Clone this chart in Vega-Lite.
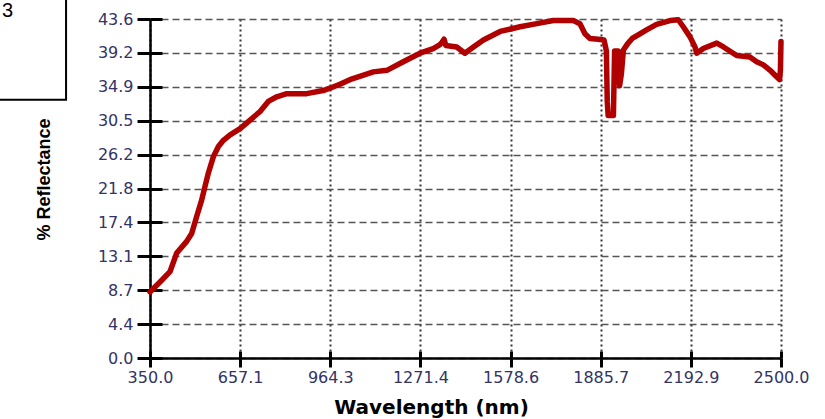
{
  "$schema": "https://vega.github.io/schema/vega-lite/v6.json",
  "width": 631,
  "height": 339,
  "autosize": {"type": "none"},
  "padding": {"left": 150, "top": 19, "right": 44, "bottom": 61},
  "background": "white",
  "config": {"view": {"stroke": null}},
  "datasets": {
    "spectrum": [
      {"w": 350, "r": 8.5}, {"w": 361, "r": 8.9}, {"w": 390, "r": 10.0}, {"w": 418, "r": 11.1},
      {"w": 441, "r": 13.5}, {"w": 475, "r": 15.0}, {"w": 492, "r": 16.0}, {"w": 509, "r": 18.2},
      {"w": 526, "r": 20.3}, {"w": 537, "r": 22.0}, {"w": 549, "r": 23.8}, {"w": 566, "r": 25.9},
      {"w": 583, "r": 27.2}, {"w": 600, "r": 28.0}, {"w": 623, "r": 28.7}, {"w": 657, "r": 29.5},
      {"w": 691, "r": 30.6}, {"w": 725, "r": 31.7}, {"w": 753, "r": 33.0}, {"w": 782, "r": 33.6},
      {"w": 816, "r": 34.0}, {"w": 884, "r": 34.0}, {"w": 940, "r": 34.4}, {"w": 963, "r": 34.7},
      {"w": 997, "r": 35.2}, {"w": 1031, "r": 35.8}, {"w": 1111, "r": 36.8}, {"w": 1157, "r": 37.0},
      {"w": 1213, "r": 38.1}, {"w": 1270, "r": 39.2}, {"w": 1315, "r": 39.8}, {"w": 1338, "r": 40.3},
      {"w": 1345, "r": 40.6}, {"w": 1352, "r": 41.0}, {"w": 1358, "r": 40.2}, {"w": 1395, "r": 40.0},
      {"w": 1423, "r": 39.2}, {"w": 1452, "r": 40.0}, {"w": 1486, "r": 40.9}, {"w": 1543, "r": 42.0},
      {"w": 1611, "r": 42.6}, {"w": 1668, "r": 43.0}, {"w": 1724, "r": 43.4}, {"w": 1792, "r": 43.4},
      {"w": 1815, "r": 43.0}, {"w": 1832, "r": 41.7}, {"w": 1849, "r": 41.1}, {"w": 1877, "r": 41.0},
      {"w": 1897, "r": 40.9}, {"w": 1905, "r": 39.5}, {"w": 1908, "r": 33.0}, {"w": 1911, "r": 31.2},
      {"w": 1929, "r": 31.2}, {"w": 1933, "r": 39.5}, {"w": 1945, "r": 39.5}, {"w": 1950, "r": 35.0},
      {"w": 1956, "r": 36.5}, {"w": 1963, "r": 39.6}, {"w": 1977, "r": 40.4}, {"w": 1993, "r": 41.1},
      {"w": 2015, "r": 41.6}, {"w": 2042, "r": 42.2}, {"w": 2076, "r": 42.9}, {"w": 2122, "r": 43.4},
      {"w": 2150, "r": 43.5}, {"w": 2167, "r": 42.6}, {"w": 2190, "r": 41.3}, {"w": 2207, "r": 40.0},
      {"w": 2213, "r": 39.2}, {"w": 2235, "r": 39.8}, {"w": 2281, "r": 40.5}, {"w": 2304, "r": 40.0},
      {"w": 2349, "r": 38.9}, {"w": 2394, "r": 38.7}, {"w": 2417, "r": 38.1}, {"w": 2440, "r": 37.7},
      {"w": 2463, "r": 37.0}, {"w": 2479, "r": 36.4}, {"w": 2495, "r": 35.8}, {"w": 2498, "r": 37.0},
      {"w": 2500, "r": 40.7}
    ],
    "frame": [{"x1": -240, "x2": 64, "y1": 47.5, "y2": 33.2}],
    "label": [{"x": -154, "y": 43.8, "t": "3"}]
  },
  "resolve": {"axis": {"x": "independent", "y": "independent"}},
  "layer": [
    {
      "data": {"name": "frame"},
      "mark": {"type": "rect", "filled": false, "color": "black", "strokeWidth": 2, "clip": false},
      "encoding": {
        "x": {"field": "x1", "type": "quantitative", "axis": null, "scale": {"domain": [350, 2500], "nice": false, "zero": false}},
        "x2": {"field": "x2"},
        "y": {"field": "y1", "type": "quantitative", "axis": null, "scale": {"domain": [0, 43.6], "nice": false, "zero": false}},
        "y2": {"field": "y2"}
      }
    },
    {
      "data": {"name": "label"},
      "mark": {"type": "text", "font": "Liberation Sans", "fontSize": 20, "align": "left", "baseline": "alphabetic", "color": "black", "clip": false},
      "encoding": {
        "x": {"field": "x", "type": "quantitative", "axis": null, "scale": {"domain": [350, 2500], "nice": false, "zero": false}},
        "y": {"field": "y", "type": "quantitative", "axis": null, "scale": {"domain": [0, 43.6], "nice": false, "zero": false}},
        "text": {"field": "t"}
      }
    },
    {
      "data": {"name": "spectrum"},
      "mark": {"type": "line", "strokeOpacity": 0},
      "encoding": {
        "x": {"field": "w", "type": "quantitative", "scale": {"domain": [350, 2500], "nice": false, "zero": false},
          "axis": {"orient": "bottom", "values": [350, 657.142857, 964.285714, 1271.428571, 1578.571429, 1885.714286, 2192.857143, 2500],
            "labels": false, "domain": false, "grid": false, "title": null, "tickSize": -7, "tickWidth": 3, "tickColor": "black"}},
        "y": {"field": "r", "type": "quantitative", "scale": {"domain": [0, 43.6], "nice": false, "zero": false},
          "axis": {"orient": "left", "values": [0, 4.36, 8.72, 13.08, 17.44, 21.8, 26.16, 30.52, 34.88, 39.24, 43.6],
            "labels": false, "domain": false, "grid": false, "title": null, "tickSize": -12, "tickWidth": 3, "tickColor": "black"}}
      }
    },
    {
      "data": {"name": "spectrum"},
      "mark": {"type": "line", "color": "#B00000", "strokeWidth": 5.5, "strokeJoin": "round", "strokeCap": "round"},
      "encoding": {
        "x": {"field": "w", "type": "quantitative", "scale": {"domain": [350, 2500], "nice": false, "zero": false},
          "axis": {"orient": "bottom", "values": [350, 657.142857, 964.285714, 1271.428571, 1578.571429, 1885.714286, 2192.857143, 2500],
            "format": ".1f", "labelFlush": false, "labelOverlap": false,
            "labelFont": "DejaVu Sans", "labelFontSize": 16, "labelColor": "#333366", "labelPadding": 2,
            "domainColor": "black", "domainWidth": 2.5, "tickColor": "black", "tickWidth": 3, "tickSize": 9,
            "grid": true, "gridColor": "#333333", "gridDash": [2, 3], "gridWidth": 2,
            "title": "Wavelength (nm)", "titleFont": "DejaVu Sans", "titleFontSize": 20, "titleFontWeight": "bold", "titleColor": "black",
            "titleX": 281, "titleY": 55, "titleBaseline": "alphabetic", "titleAlign": "center"}},
        "y": {"field": "r", "type": "quantitative", "scale": {"domain": [0, 43.6], "nice": false, "zero": false},
          "axis": {"orient": "left", "values": [0, 4.36, 8.72, 13.08, 17.44, 21.8, 26.16, 30.52, 34.88, 39.24, 43.6],
            "format": ".1f", "labelFlush": false, "labelOverlap": false,
            "labelFont": "DejaVu Sans", "labelFontSize": 16, "labelColor": "#333366", "labelPadding": 4,
            "domainColor": "black", "domainWidth": 2.5, "tickColor": "black", "tickWidth": 3, "tickSize": 13,
            "grid": true, "gridColor": "#555555", "gridDash": [7, 4], "gridWidth": 1.5,
            "title": "% Reflectance", "titleFont": "Liberation Sans", "titleFontSize": 18, "titleFontWeight": "bold", "titleColor": "black",
            "titleX": -106, "titleY": 160, "titleAngle": -90, "titleBaseline": "middle", "titleAlign": "center"}}
      }
    }
  ]
}
